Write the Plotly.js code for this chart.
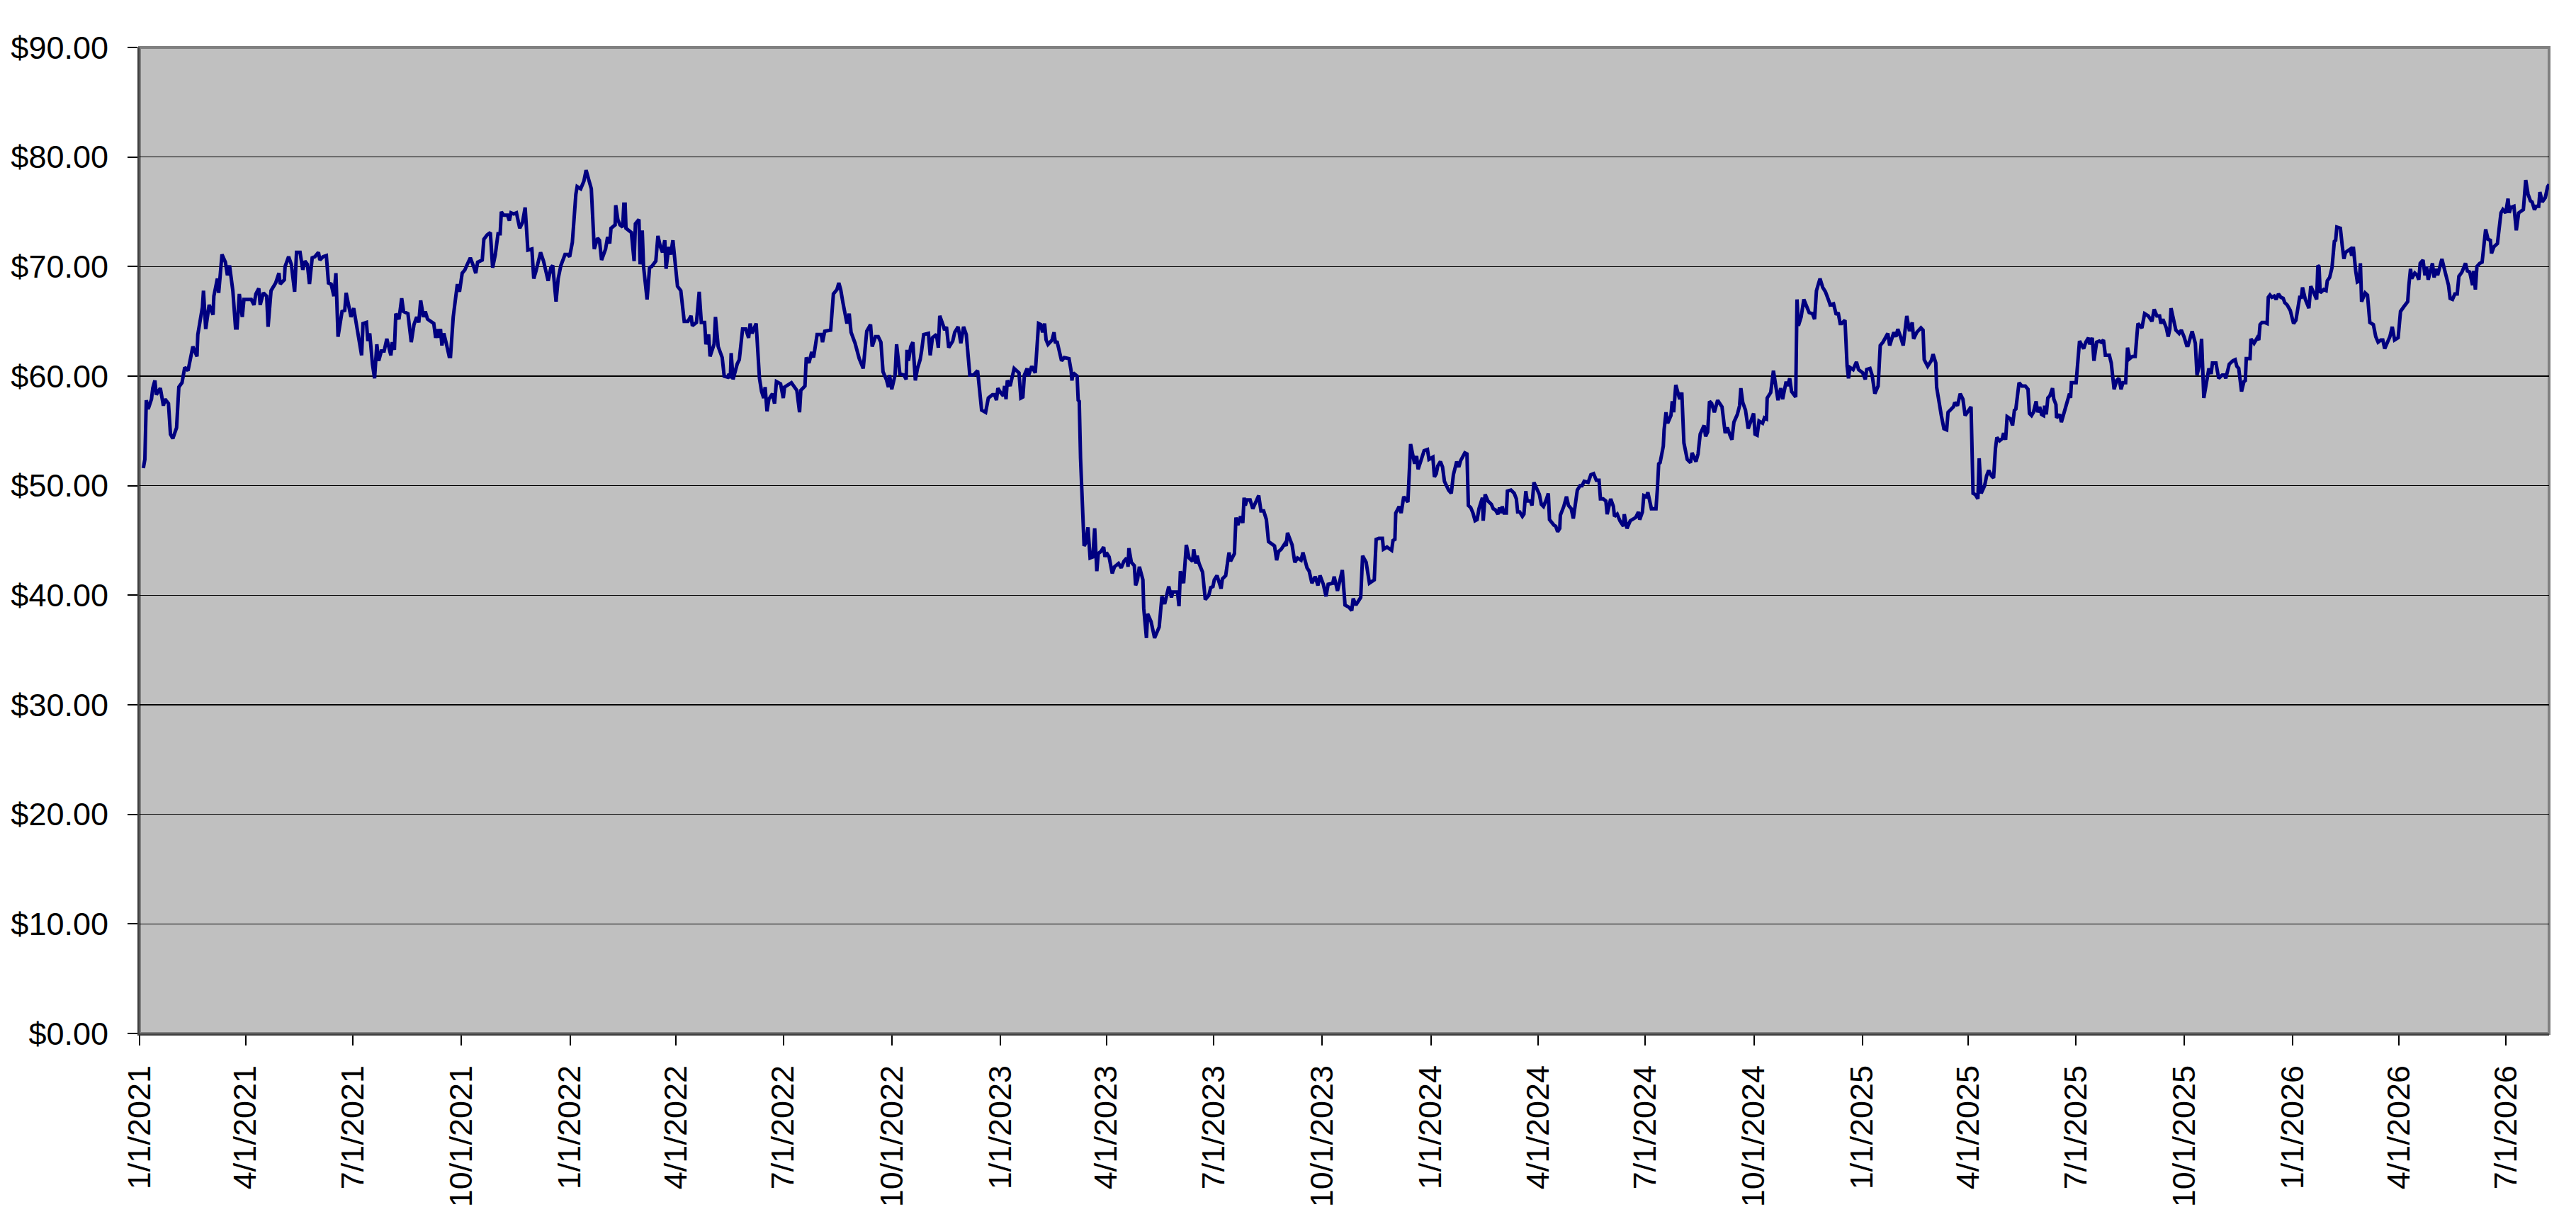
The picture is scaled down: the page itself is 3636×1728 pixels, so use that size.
<!DOCTYPE html>
<html>
<head>
<meta charset="utf-8">
<script src="https://cdn.plot.ly/plotly-3.0.1.min.js"></script>
<style>
  body { margin: 0; background: #fff; }
  #myDiv { width: 3636px; height: 1728px; }
</style>
</head>
<body>
<div id="myDiv"></div>
<script>
// [days since 1/1/2021, closing price]
let points2021 = [
  [3.2,51.6],[4.5,52.4],[5.7,57.8],[7.3,57.0],[10.1,57.9],[11.2,58.9],[13.0,59.6],[14.2,58.3],[17.6,58.9],[20.2,57.3],
  [21.6,57.9],[24.5,57.5],[26.2,54.7],[28.2,54.3],[31.4,55.3],[33.3,59.0],[36.0,59.4],[38.3,60.8],[41.1,60.5],[45.2,62.7],
  [48.7,61.8],[49.4,63.8],[53.3,66.3],[54.2,67.8],[56.1,64.3],[59.0,66.5],[62.3,65.6],[63.0,67.3],[66.0,68.9],[67.1,67.6],
  [69.9,71.1],[72.8,70.4],[74.5,69.2],[76.3,70.1],[79.1,67.8],[81.4,64.4],[82.7,64.4],[84.6,67.5],[87.1,65.4],[88.5,67.0],
  [94.7,67.0],[97.0,66.5],[98.6,67.5],[101.1,68.0],[102.3,66.5],[105.0,67.6],[107.8,67.3],[109.0,64.5],[111.5,67.8],[115.4,68.5],
  [118.2,69.4],[119.3,68.4],[122.8,68.8],[123.4,70.0],[126.4,70.9],[128.7,70.2],[131.5,67.7],[133.1,71.3],[136.1,71.3],[138.4,69.7],
  [140.2,70.5],[142.3,70.2],[144.1,68.4],[146.4,70.8],[148.7,70.9],[151.7,71.3],[152.9,70.6],[155.6,70.9],[158.4,71.0],[160.2,68.5],
  [162.5,68.4],[164.8,67.3],[166.5,69.4],[168.3,63.6],[171.7,65.9],[174.0,66.0],[175.2,67.6],[179.3,65.4],[181.6,66.2],[184.9,64.2],
  [186.7,63.1],[188.3,61.9],[189.5,64.8],[192.4,64.9],[193.6,63.2],[195.2,63.9],[197.5,61.1],[199.3,59.8],[201.2,62.9],[202.8,61.4],
  [205.1,62.3],[207.4,62.3],[209.7,63.4],[213.1,61.9],[214.3,63.1],[216.1,62.4],[217.3,65.7],[220.0,65.2],[222.3,67.1],[223.9,65.9],
  [227.6,65.7],[230.4,63.1],[232.7,64.7],[235.0,65.4],[236.8,64.9],[238.4,66.9],[240.7,65.4],[242.3,65.9],[244.2,65.2],[249.5,64.8],
  [251.1,63.5],[252.9,64.3],[253.8,63.5],[255.2,64.3],[256.4,62.8],[258.0,63.9],[260.3,62.9],[262.6,61.8],[263.7,61.8],[266.0,65.4],
  [269.5,68.4],[271.3,67.7],[273.6,69.4],[275.9,69.7],[277.5,70.1],[280.5,70.8],[283.3,70.0],[285.1,69.4],[286.7,70.4],[290.6,70.6],
  [292.0,72.5],[294.8,72.9],[297.5,73.1],[299.4,69.9],[301.7,71.1],[304.0,73.0],[305.8,73.0],[306.8,75.0],[308.6,74.7],[312.0,74.7],
  [313.6,74.2],[315.0,74.9],[317.3,74.8],[319.6,74.9],[322.4,73.5],[324.7,74.0],[327.0,75.4],[329.3,71.5],[332.7,71.6],[334.3,68.9],
  [336.2,69.6],[340.1,71.3],[342.6,70.5],[346.5,68.7],[348.8,69.9],[350.4,70.1],[353.2,66.8],[355.0,68.9],[357.3,70.1],[360.8,71.1],
  [363.1,71.1],[364.7,70.9]
];

let points2022 = [
  [367.0,72.2],[368.3,74.2],[370.0,76.6],[371.1,77.3],[374.1,77.1],[376.8,77.8],[378.7,78.8],[381.0,77.9],[383.1,77.1],[385.6,71.6],
  [388.4,72.6],[390.0,72.4],[391.8,70.6],[395.2,71.6],[396.9,72.7],[398.7,72.1],[399.8,73.5],[403.3,73.8],[403.8,75.6],[405.6,74.3],
  [407.4,73.8],[409.7,73.6],[410.7,75.7],[411.8,75.7],[412.5,73.5],[417.1,73.1],[419.4,70.5],[420.5,73.9],[423.5,74.3],[424.5,70.2],
  [426.3,73.3],[427.4,70.0],[430.4,67.0],[432.5,69.9],[434.3,70.0],[437.8,70.5],[439.6,72.8],[441.7,71.8],[443.5,71.3],[445.4,72.4],
  [446.5,69.8],[448.8,71.8],[450.4,71.1],[452.3,72.4],[455.0,68.8],[456.2,68.2],[459.0,67.8],[461.9,65.0],[465.0,65.0],[467.7,65.5],
  [468.8,64.6],[472.3,64.9],[474.6,67.7],[476.4,64.9],[479.2,64.9],[480.3,62.9],[482.6,63.8],[483.8,61.8],[487.2,62.9],[488.4,65.4],
  [490.7,62.7],[494.1,61.7],[495.8,60.0],[498.7,59.9],[499.9,60.2],[501.0,59.8],[501.7,62.1],[503.3,59.7],[506.8,61.1],[508.6,61.5],
  [511.4,64.3],[514.1,64.3],[516.5,63.5],[517.8,64.8],[519.4,63.9],[522.9,64.8],[525.7,59.8],[527.5,58.6],[529.3,58.0],[530.5,59.0],
  [532.1,56.8],[533.7,57.9],[536.7,58.4],[538.5,57.5],[540.1,59.5],[543.6,59.3],[545.9,58.0],[547.0,59.0],[552.8,59.4],[555.1,59.0],
  [557.4,58.7],[559.7,56.7],[560.8,58.7],[564.3,59.1],[565.4,61.7],[567.7,61.2],[570.0,62.2],[571.6,61.7],[573.0,62.9],[574.6,63.8],
  [578.1,63.8],[579.2,63.1],[581.1,64.1],[586.1,64.2],[588.4,67.5],[591.4,67.9],[593.0,68.5],[594.6,67.9],[596.5,66.7],[599.9,64.8],
  [601.8,65.7],[603.4,64.0],[606.8,63.0],[610.3,61.6],[613.7,60.7],[616.7,64.1],[619.9,64.7],[621.3,62.7],[624.1,63.6],[626.4,63.6],
  [628.7,63.1],[630.5,60.4],[633.3,59.7],[635.1,59.0],[636.0,60.1],[637.9,58.8],[640.7,60.1],[642.0,62.9],[644.8,60.2],[648.2,60.1],
  [650.1,59.7],[650.8,62.4],[652.1,61.4],[654.0,62.7],[655.8,63.1],[657.9,59.6],[659.7,60.7],[662.0,61.5],[663.2,62.3],[665.0,63.8],
  [669.0,63.9],[670.5,61.9],[672.4,63.5],[675.8,63.8],[677.4,62.6],[678.6,65.5],[681.6,64.6],[682.7,64.2],[684.3,64.5],[686.2,62.6],
  [689.6,63.2],[691.3,64.0],[694.2,64.5],[696.5,63.0],[698.8,64.5],[701.1,63.8],[704.1,60.1],[707.2,60.1],[710.7,60.5],[714.1,56.9],
  [717.5,56.7],[719.8,58.0],[723.3,58.3],[725.1,58.3],[726.7,57.8],[727.9,58.9]
];

let points2023 = [
  [730.2,58.5],[732.5,58.2],[733.6,59.1],[734.8,57.9],[735.9,59.6],[738.3,59.1],[741.7,60.7],[745.8,60.3],[747.4,58.0],[749.1,58.1],
  [750.4,60.1],[752.7,60.7],[753.7,60.0],[756.6,60.9],[759.6,60.3],[761.2,63.0],[762.4,64.8],[764.2,64.7],[765.8,64.0],[767.5,64.8],
  [768.8,63.3],[770.4,62.9],[773.9,63.3],[775.5,64.0],[776.7,63.0],[778.0,63.2],[781.9,61.4],[784.2,61.7],[788.2,61.6],[790.0,60.5],
  [790.7,59.6],[791.8,60.3],[795.1,60.0],[796.0,57.8],[796.9,57.7],[798.0,52.5],[801.0,44.5],[802.6,44.8],[804.3,46.2],[806.1,43.4],
  [808.4,43.5],[810.0,46.1],[811.8,42.2],[813.0,43.8],[815.3,44.0],[817.6,44.4],[818.7,43.5],[819.9,43.9],[822.2,43.5],[824.9,42.0],
  [826.8,42.6],[830.2,42.9],[832.5,42.5],[834.8,43.1],[837.1,43.4],[838.3,42.6],[839.0,44.3],[841.1,43.0],[843.6,42.7],[844.7,40.9],
  [846.3,41.4],[847.9,42.6],[850.9,41.4],[851.6,38.8],[853.9,36.1],[854.9,38.3],[857.8,37.6],[860.8,36.1],[863.1,36.8],[864.7,37.1],
  [867.0,39.9],[869.3,39.2],[872.8,40.8],[875.1,39.8],[876.2,40.3],[880.2,40.3],[881.5,39.0],[882.7,42.2],[885.4,41.1],[887.7,44.6],
  [890.0,43.4],[893.0,43.1],[894.0,44.2],[895.8,42.9],[896.9,43.6],[898.5,42.9],[901.5,42.1],[903.8,39.6],[906.8,40.0],[908.4,40.7],
  [910.3,40.8],[911.4,41.4],[913.7,41.8],[917.2,40.6],[918.3,41.5],[921.1,41.8],[923.9,43.9],[925.2,43.1],[928.5,43.8],[929.8,47.1],
  [931.4,46.4],[933.7,47.2],[935.6,46.6],[936.7,48.9],[937.7,48.2],[939.0,48.7],[941.8,48.7],[944.1,47.9],[949.1,49.1],[951.0,47.7],
  [953.3,47.7],[955.6,46.9],[957.4,44.9],[960.2,44.7],[962.5,44.5],[964.3,43.2],[966.0,44.0],[968.2,44.2],[971.2,44.7],[972.4,44.5],
  [973.5,45.7],[977.4,44.6],[979.7,43.0],[982.0,43.4],[985.0,43.2],[986.6,43.9],[990.1,42.5],[991.9,42.2],[994.2,41.1],[997.0,41.7],
  [999.3,40.9],[1001.1,41.8],[1003.9,41.0],[1006.2,39.9],[1008.0,41.0],[1011.9,41.1],[1013.1,41.7],[1015.9,40.4],[1020.0,42.3],[1022.3,39.1],
  [1025.7,38.9],[1028.0,38.6],[1029.2,39.7],[1031.5,39.1],[1035.6,39.8],[1037.2,43.6],[1040.2,43.0],[1043.0,41.1],[1047.1,41.4],[1048.7,45.1],
  [1051.0,45.2],[1054.0,45.2],[1054.9,44.2],[1057.9,44.4],[1061.8,44.1],[1063.0,45.0],[1064.6,45.1],[1065.3,47.5],[1068.2,48.1],[1069.9,47.5],
  [1072.1,49.0],[1075.6,48.5],[1077.9,53.8],[1081.3,52.0],[1083.0,52.7],[1084.3,51.5],[1086.6,52.4],[1089.4,53.2],[1092.2,53.3],[1093.5,52.4]
];

let points2024 = [
  [1096.8,52.6],[1098.1,50.8],[1099.7,51.1],[1100.9,51.8],[1103.2,52.2],[1105.0,51.7],[1106.6,50.4],[1110.1,49.6],[1112.4,49.3],[1114.2,51.0],
  [1117.0,52.2],[1118.8,51.7],[1120.4,52.3],[1123.9,53.0],[1125.7,52.9],[1126.9,48.2],[1128.9,48.0],[1130.8,47.5],[1132.6,46.8],[1134.3,46.9],
  [1135.9,47.9],[1138.8,48.9],[1139.5,46.8],[1141.1,49.2],[1143.5,48.6],[1146.4,48.3],[1148.0,47.9],[1149.7,47.8],[1152.0,47.4],[1153.3,48.0],
  [1154.3,47.5],[1155.6,48.1],[1157.2,47.5],[1159.1,47.5],[1160.0,49.5],[1163.0,49.6],[1165.8,49.3],[1167.6,48.8],[1168.7,47.6],[1170.4,47.6],
  [1172.7,47.2],[1174.0,47.4],[1175.6,49.5],[1176.8,48.6],[1179.5,48.6],[1180.9,48.2],[1182.5,50.3],[1184.8,49.8],[1187.1,49.2],[1188.8,48.3],
  [1190.6,48.1],[1192.9,48.7],[1194.7,49.3],[1195.7,46.9],[1197.5,46.6],[1199.4,46.4],[1201.0,46.3],[1202.6,45.8],[1204.4,46.1],[1204.9,47.3],
  [1207.8,48.1],[1210.1,49.0],[1211.8,48.2],[1214.1,47.9],[1215.9,47.0],[1219.3,49.6],[1221.6,50.0],[1223.3,50.0],[1225.1,50.4],[1228.5,50.3],
  [1230.8,51.0],[1233.1,51.1],[1235.4,50.5],[1237.7,50.5],[1238.9,48.8],[1241.2,48.8],[1243.5,48.6],[1244.6,47.4],[1247.6,48.8],[1249.9,48.1],
  [1250.8,47.2],[1253.1,47.4],[1255.4,46.8],[1258.4,46.3],[1259.1,47.4],[1261.4,46.1],[1264.2,46.8],[1266.5,47.0],[1268.8,47.1],[1271.1,47.6],
  [1272.2,46.9],[1274.5,47.6],[1275.7,49.1],[1278.0,49.0],[1279.1,49.4],[1282.1,47.9],[1284.4,47.9],[1286.0,47.9],[1287.2,49.7],[1288.3,52.0],
  [1289.5,52.1],[1292.2,53.6],[1292.9,55.1],[1294.5,56.7],[1295.9,55.7],[1298.7,56.4],[1299.8,57.7],[1301.0,56.7],[1302.8,59.2],[1304.4,58.6],
  [1306.1,57.9],[1307.9,58.5],[1309.7,53.9],[1312.5,52.4],[1315.3,52.1],[1316.6,53.0],[1319.9,52.2],[1321.7,52.9],[1323.5,54.7],[1326.8,55.5],
  [1328.1,54.5],[1329.8,54.9],[1331.4,57.7],[1333.2,57.5],[1335.5,56.7],[1338.3,57.8],[1342.0,57.2],[1344.7,54.8],[1346.5,55.3],[1348.8,54.6],
  [1350.4,54.2],[1352.1,55.8],[1355.0,56.5],[1356.9,57.3],[1358.0,58.9],[1359.6,57.6],[1361.9,56.9],[1364.2,55.2],[1366.5,55.9],[1368.8,56.6],
  [1370.0,54.7],[1371.8,54.6],[1373.4,55.9],[1376.4,55.7],[1378.0,56.2],[1379.7,56.1],[1380.3,58.0],[1383.3,58.5],[1385.6,60.5],[1387.9,58.9],
  [1389.5,57.8],[1391.8,58.9],[1393.4,57.9],[1396.4,59.5],[1397.6,59.1],[1399.4,59.8],[1401.0,58.6],[1404.5,58.1],[1405.6,67.0],[1406.8,64.6],
  [1409.1,65.4],[1411.4,67.0],[1415.9,65.8],[1418.7,65.7],[1420.5,65.2],[1422.1,67.8],[1425.1,68.9],[1427.4,68.1],[1429.7,67.7],[1432.5,66.9],
  [1433.7,66.5],[1436.6,66.6],[1438.9,65.6],[1440.5,65.8],[1442.2,64.8],[1443.5,64.8],[1446.3,65.1],[1448.1,60.9],[1449.3,59.8],[1450.4,60.8],
  [1453.2,60.6],[1456.0,61.3],[1457.8,60.6]
];

let points2025 = [
  [1461.3,60.3],[1463.5,59.7],[1464.7,60.6],[1467.5,60.7],[1469.3,60.1],[1471.6,58.4],[1474.4,59.1],[1476.2,62.8],[1478.5,63.1],[1480.8,63.5],
  [1482.6,63.9],[1484.2,62.8],[1487.7,64.0],[1489.5,63.6],[1491.1,64.3],[1493.4,63.6],[1495.7,62.8],[1498.7,65.5],[1501.0,64.1],[1503.3,64.9],
  [1504.5,63.4],[1507.2,64.0],[1510.7,64.4],[1512.5,64.2],[1513.5,61.5],[1516.4,60.9],[1519.4,61.4],[1521.0,62.0],[1523.3,61.2],[1524.0,59.0],
  [1525.7,57.7],[1528.0,56.4],[1530.2,55.2],[1532.5,55.1],[1533.7,56.7],[1536.0,57.0],[1538.3,57.2],[1539.4,57.6],[1541.7,57.3],[1544.0,58.4],
  [1546.3,57.9],[1548.2,56.4],[1550.9,56.9],[1553.2,57.2],[1554.9,49.3],[1556.7,49.2],[1559.0,48.8],[1560.1,52.5],[1561.8,49.3],[1564.7,50.0],
  [1566.4,50.9],[1568.2,51.4],[1570.5,50.9],[1572.3,50.7],[1573.9,53.4],[1575.1,54.4],[1577.4,54.1],[1579.7,54.3],[1580.8,54.8],[1582.5,54.2],
  [1583.8,56.3],[1586.6,56.1],[1588.4,55.5],[1590.0,56.9],[1591.2,57.0],[1593.9,59.4],[1596.2,59.1],[1599.2,59.1],[1601.5,58.8],[1602.7,56.6],
  [1604.5,56.4],[1606.1,56.7],[1608.4,57.7],[1609.6,56.7],[1611.4,57.2],[1613.0,56.5],[1614.7,56.4],[1615.6,57.3],[1617.0,56.5],[1618.3,58.0],
  [1620.0,58.2],[1622.3,58.9],[1623.4,57.9],[1625.2,57.4],[1625.7,56.2],[1628.4,56.5],[1629.8,55.8],[1632.1,56.6],[1634.4,57.4],[1636.7,58.4],
  [1637.6,58.0],[1638.3,59.4],[1642.3,59.4],[1643.6,61.5],[1645.2,63.2],[1648.7,62.5],[1650.5,63.1],[1652.8,63.5],[1653.7,62.9],[1656.0,63.5],
  [1657.4,61.4],[1659.7,63.1],[1662.0,63.2],[1663.6,63.1],[1665.5,63.3],[1667.1,61.9],[1670.5,61.9],[1672.1,61.2],[1674.5,58.8],[1676.7,59.6],
  [1678.6,59.8],[1680.4,58.8],[1682.0,59.4],[1684.3,59.4],[1685.9,62.6],[1687.8,61.6],[1690.1,61.8],[1692.4,61.8],[1694.7,64.8],[1698.1,64.4],
  [1700.4,65.7],[1703.4,65.5],[1706.6,65.0],[1708.5,66.1],[1710.8,65.5],[1713.1,65.5],[1714.2,64.8],[1715.9,65.2],[1718.8,64.4],[1720.4,63.6],
  [1721.8,64.3],[1722.8,66.2],[1724.6,65.3],[1726.9,64.2],[1729.7,63.9],[1731.5,64.2],[1733.8,63.6],[1736.1,62.8],[1737.2,62.8],[1740.7,64.1],
  [1743.4,63.0],[1744.8,60.1],[1746.7,60.9],[1748.0,63.3],[1748.7,63.4],[1750.6,58.0],[1752.6,59.5],[1754.9,60.7],[1756.8,60.2],[1757.9,61.2],
  [1760.9,61.2],[1763.2,59.8],[1766.2,60.1],[1768.2,60.1],[1769.2,59.8],[1770.6,60.6],[1772.2,61.1],[1775.2,61.4],[1777.2,61.5],[1778.6,60.9],
  [1780.2,60.7],[1782.6,58.6],[1784.6,59.5],[1785.8,59.6],[1786.6,61.6],[1789.8,61.6],[1790.6,63.4],[1793.2,63.0],[1795.9,63.5],[1797.2,63.3],
  [1798.3,64.7],[1799.9,64.9],[1802.3,64.9],[1804.3,64.8],[1805.3,67.2],[1806.7,67.4],[1808.3,67.2],[1810.3,67.3],[1811.9,67.0],[1813.9,67.5],
  [1815.9,67.2],[1817.9,67.1],[1819.3,66.7],[1821.3,66.5],[1823.9,66.0]
];

let points2026 = [
  [1826.7,64.8],[1828.7,65.1],[1831.9,67.2],[1833.3,67.2],[1834.3,68.1],[1836.7,67.0],[1839.7,66.2],[1841.3,68.2],[1844.3,67.5],[1846.3,67.0],
  [1847.3,70.1],[1848.3,70.0],[1849.3,67.6],[1852.3,67.9],[1854.3,67.8],[1855.3,68.7],[1857.3,69.0],[1859.3,69.9],[1861.3,72.3],[1862.4,72.4],
  [1863.4,73.6],[1866.4,73.5],[1868.0,71.9],[1869.4,70.7],[1870.8,71.3],[1873.4,71.5],[1874.8,71.6],[1876.0,71.0],[1877.4,71.8],[1879.4,69.6],
  [1880.8,68.6],[1882.4,68.7],[1883.4,70.3],[1884.4,66.8],[1886.0,67.2],[1887.4,67.6],[1889.4,67.4],[1891.4,64.9],[1894.4,64.7],[1896.4,63.6],
  [1898.4,63.1],[1900.8,63.3],[1902.4,63.3],[1904.0,62.5],[1906.4,63.1],[1908.4,63.6],[1910.4,64.5],[1912.4,63.3],[1915.4,63.5],[1917.4,65.9],
  [1920.0,66.3],[1923.5,66.8],[1924.5,68.3],[1925.9,69.8],[1926.9,68.9],[1929.5,69.4],[1931.5,69.2],[1932.9,68.8],[1934.1,70.3],[1936.5,70.6],
  [1938.1,69.2],[1939.5,70.0],[1940.9,68.8],[1942.9,69.8],[1944.5,70.3],[1945.9,69.0],[1947.5,69.8],[1948.9,69.2],[1950.5,69.8],[1952.5,70.7],
  [1955.5,69.4],[1958.1,68.3],[1959.5,67.1],[1961.5,67.0],[1963.5,67.5],[1965.5,67.5],[1966.9,69.1],[1969.5,69.5],[1972.5,70.3],[1974.1,69.6],
  [1976.1,69.5],[1978.5,68.3],[1979.5,69.6],[1980.9,67.9],[1982.2,70.0],[1984.6,70.3],[1986.6,70.4],[1987.6,71.5],[1989.6,73.4],[1991.6,72.5],
  [1993.6,72.4],[1994.6,71.2],[1996.6,71.8],[1999.6,72.1],[2002.6,74.9],[2004.2,75.2],[2006.6,74.9],[2008.6,76.2],[2009.6,74.9],[2011.0,75.4],
  [2013.6,75.5],[2015.6,73.3],[2017.6,74.9],[2021.6,75.2],[2023.6,77.9],[2025.6,76.6],[2027.6,76.0],[2029.0,75.9],[2031.0,75.2],[2032.6,75.5],
  [2034.6,75.5],[2035.6,76.8],[2037.6,75.9],[2040.2,76.3],[2042.2,77.3],[2043.4,77.5]
];

let startDate = Date.UTC(2021, 0, 1);
function dayToDate(d) {
  return new Date(startDate + d * 86400000).toISOString().replace('Z', '');
}

let allPoints = points2021.concat(points2022, points2023, points2024, points2025, points2026);
let xs = [], ys = [];
for (let i = 0; i < allPoints.length; i++) {
  xs.push(dayToDate(allPoints[i][0]));
  ys.push(allPoints[i][1]);
}

let font = {family: '"Liberation Sans", Arial, sans-serif', size: 45, color: '#000'};

let trace = {
  x: xs, y: ys, type: 'scatter', mode: 'lines',
  line: {color: '#000080', width: 5},
  hoverinfo: 'skip'
};

let layout = {
  width: 3636, height: 1728,
  margin: {l: 197, r: 38, t: 67, b: 269},
  paper_bgcolor: '#ffffff',
  plot_bgcolor: '#c0c0c0',
  showlegend: false,
  font: font,
  xaxis: {
    type: 'date',
    range: [dayToDate(0), dayToDate(allPoints[allPoints.length - 1][0])],
    tick0: dayToDate(0), dtick: 'M3',
    tickformat: '%-m/%-d/%Y', tickangle: -90,
    ticks: 'outside', ticklen: 14, tickwidth: 2, tickcolor: '#000',
    ticklabelstandoff: 10,
    showgrid: false, zeroline: false,
    showline: true, linecolor: '#404040', linewidth: 3,
    tickfont: font
  },
  yaxis: {
    range: [0, 90], dtick: 10, tickformat: '$.2f',
    ticks: 'outside', ticklen: 14, tickwidth: 2, tickcolor: '#000',
    ticklabelstandoff: 18,
    showgrid: true, gridcolor: '#000', gridwidth: 1.5,
    zeroline: false,
    showline: true, linecolor: '#404040', linewidth: 3,
    tickfont: font
  },
  shapes: [{
    type: 'rect', xref: 'paper', yref: 'paper', x0: 0, x1: 1, y0: 0, y1: 1,
    line: {color: '#808080', width: 4}, layer: 'below'
  }]
};

Plotly.newPlot('myDiv', [trace], layout, {displayModeBar: false, staticPlot: true});
</script>
</body>
</html>
